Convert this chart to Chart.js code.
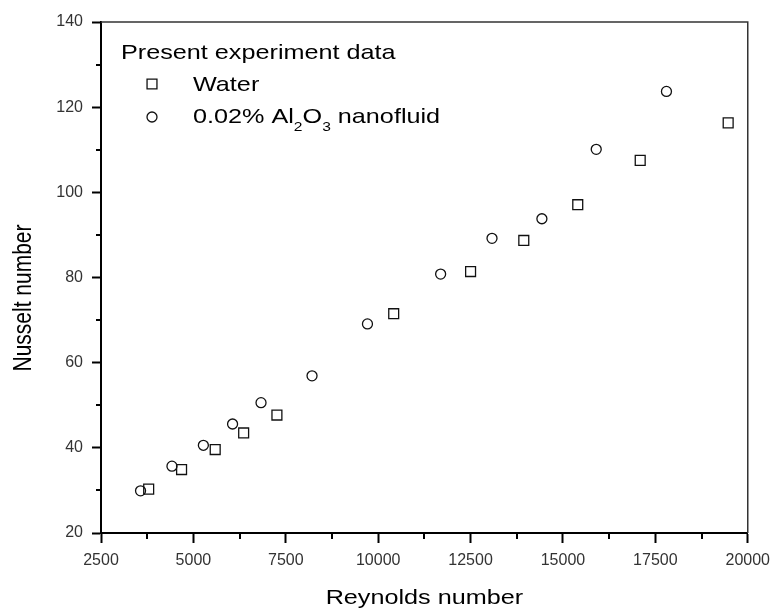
<!DOCTYPE html>
<html>
<head>
<meta charset="utf-8">
<script src="https://cdn.jsdelivr.net/npm/chart.js@4.4.0/dist/chart.umd.min.js"></script>
<style>
  html, body { margin: 0; padding: 0; background: #fff; }
  #wrap { width: 778px; height: 611px; }
</style>
</head>
<body>
<div id="wrap"><canvas id="myChart" width="778" height="611"></canvas></div>
<script>
// values
const waterRe = [3790, 4680, 5590, 6360, 7260, 10420, 12500, 13940, 15400, 17090, 19470]
const waterNu = [30.3, 34.9, 39.6, 43.5, 47.7, 71.5, 81.4, 88.7, 97.1, 107.5, 116.3]
const nanoRe = [3570, 4420, 5270, 6060, 6830, 8210, 9710, 11690, 13080, 14430, 15900, 17800]
const nanoNu = [29.9, 35.7, 40.6, 45.6, 50.6, 56.9, 69.1, 80.8, 89.2, 93.8, 110.1, 123.7]
const xTicks = [2500, 5000, 7500, 10000, 12500, 15000, 17500, 20000]
const yTicks = [20, 40, 60, 80, 100, 120, 140]
const legendTitle = 'Present experiment data'
const seriesNames = ['Water', '0.02% Al2O3 nanofluid']

const FONT = 'Liberation Sans, Arial, sans-serif'
const STRETCH = 1.2   // the reference text is a bit wide

const toPoints = (xs, ys) => xs.map((v, i) => ({ x: v, y: ys[i] }))

// draws text a bit wider than normal, like the source image
const wideText = function(ctx, text, x, y, size, align) {
    ctx.save()
    ctx.font = `${size}px ${FONT}`
    ctx.textBaseline = 'middle'
    ctx.textAlign = align || 'left'
    ctx.translate(x, y)
    ctx.scale(STRETCH, 1)
    ctx.fillText(text, 0, 0)
    const w = ctx.measureText(text).width * STRETCH
    ctx.restore()
    return w
}

const extras = {
    id: 'extras',
    afterDraw(chart) {
        const { ctx, chartArea: a, scales: { x, y } } = chart
        ctx.save()

        // top and right frame
        ctx.strokeStyle = '#333'
        ctx.lineWidth = 1.5
        ctx.beginPath()
        ctx.moveTo(a.left, a.top)
        ctx.lineTo(a.right, a.top)
        ctx.lineTo(a.right, a.bottom)
        ctx.stroke()

        // minor ticks halfway between the labelled ones
        ctx.strokeStyle = '#000'
        ctx.lineWidth = 2
        for (let i = 0; i < xTicks.length - 1; i++) {
            const px = Math.round(x.getPixelForValue((xTicks[i] + xTicks[i + 1]) / 2))
            ctx.beginPath()
            ctx.moveTo(px, a.bottom)
            ctx.lineTo(px, a.bottom + 6)
            ctx.stroke()
        }
        for (let i = 0; i < yTicks.length - 1; i++) {
            const py = Math.round(y.getPixelForValue((yTicks[i] + yTicks[i + 1]) / 2))
            ctx.beginPath()
            ctx.moveTo(a.left, py)
            ctx.lineTo(a.left - 5, py)
            ctx.stroke()
        }

        // axis titles
        ctx.fillStyle = '#000'
        wideText(ctx, 'Reynolds number', (a.left + a.right) / 2, 598, 21, 'center')
        ctx.save()
        ctx.translate(24, 298)
        ctx.rotate(-Math.PI / 2)
        ctx.scale(1, STRETCH)
        ctx.font = `21px ${FONT}`
        ctx.textAlign = 'center'
        ctx.textBaseline = 'middle'
        ctx.fillText('Nusselt number', 0, 0)
        ctx.restore()

        // legend
        wideText(ctx, legendTitle, 121, 53, 21)
        ctx.strokeStyle = '#111'
        ctx.fillStyle = 'rgba(0,0,0,0)'
        ctx.lineWidth = 1.3
        Chart.helpers.drawPoint(ctx, { pointStyle: 'rect', radius: 7, borderWidth: 1.3 }, 152, 84)
        Chart.helpers.drawPoint(ctx, { pointStyle: 'circle', radius: 5, borderWidth: 1.3 }, 152, 117)
        ctx.fillStyle = '#000'
        wideText(ctx, seriesNames[0], 193, 85, 21)
        let cx = 193
        cx += wideText(ctx, '0.02% Al', cx, 117, 21)
        cx += wideText(ctx, '2', cx, 127, 13)
        cx += wideText(ctx, 'O', cx, 117, 21)
        cx += wideText(ctx, '3', cx, 127, 13)
        wideText(ctx, ' nanofluid', cx, 117, 21)

        ctx.restore()
    }
}

const myChart = new Chart(document.getElementById('myChart'), {
    type: 'scatter',
    data: {
        datasets: [{
            label: seriesNames[0],
            data: toPoints(waterRe, waterNu),
            pointStyle: 'rect',
            pointRadius: 7,
            borderColor: '#111',
            backgroundColor: 'rgba(0,0,0,0)',
            borderWidth: 1.3,
        }, {
            label: seriesNames[1],
            data: toPoints(nanoRe, nanoNu),
            pointStyle: 'circle',
            pointRadius: 5,
            borderColor: '#111',
            backgroundColor: 'rgba(0,0,0,0)',
            borderWidth: 1.3,
        }],
    },
    options: {
        responsive: false,
        animation: false,
        layout: { padding: { top: 22, right: 30, left: 0, bottom: 0 } },
        plugins: {
            legend: { display: false },
            tooltip: { enabled: false },
        },
        scales: {
            x: {
                type: 'linear',
                min: 2500,
                max: 20000,
                afterBuildTicks: s => { s.ticks = xTicks.map(v => ({ value: v })) },
                afterFit: s => { s.height = 78 },
                border: { color: '#000', width: 2 },
                grid: { drawOnChartArea: false, tickLength: 10, tickWidth: 2, color: '#000' },
                ticks: { color: '#333', font: { family: FONT, size: 16 }, padding: 8, maxRotation: 0, callback: v => String(v) },
            },
            y: {
                type: 'linear',
                min: 20,
                max: 140,
                afterBuildTicks: s => { s.ticks = yTicks.map(v => ({ value: v })) },
                afterFit: s => { s.width = 101 },
                border: { color: '#000', width: 2 },
                grid: { drawOnChartArea: false, tickLength: 9, tickWidth: 2, color: '#000' },
                ticks: { color: '#333', font: { family: FONT, size: 16 }, padding: 9, callback: v => String(v) },
            },
        },
    },
    plugins: [extras],
})
</script>
</body>
</html>
